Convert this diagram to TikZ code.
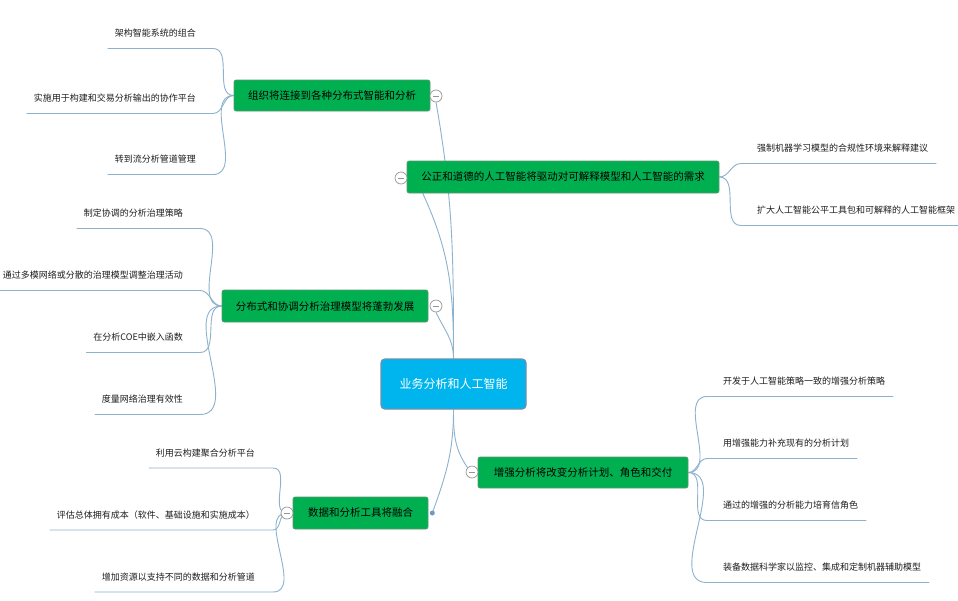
\documentclass[tikz,border=0pt]{standalone}
\usepackage{fontspec}
\setmainfont{Noto Sans CJK SC}
\usetikzlibrary{calc}
\pgfdeclarelayer{bg}
\pgfsetlayers{bg,main}
\definecolor{linec}{RGB}{140,178,206}
\definecolor{greenf}{RGB}{0,176,80}
\definecolor{greend}{RGB}{95,150,115}
\definecolor{bluef}{RGB}{0,181,238}
\definecolor{blued}{RGB}{105,145,175}
\definecolor{leaftxt}{RGB}{30,30,30}
\definecolor{circd}{RGB}{150,150,150}
\definecolor{dotc}{RGB}{110,155,195}
\begin{document}
\begin{tikzpicture}[x=1pt,y=-1pt,
  topic/.style={draw=greend, fill=greenf, line width=0.6pt, rounded corners=2pt,
    minimum height=31pt, inner sep=0pt, font=\fontsize{10.5}{12}\selectfont, text=black},
  rootnode/.style={draw=blued, fill=bluef, line width=1.3pt, rounded corners=4pt,
    minimum width=145pt, minimum height=50pt, inner sep=0pt,
    font=\fontsize{12}{14}\selectfont, text=white},
  leaf/.style={inner sep=0pt, font=\fontsize{9}{11}\selectfont, text=leaftxt},
  conn/.style={draw=linec, line width=0.9pt},
  fold/.style={circle, draw=circd, fill=white, line width=0.7pt, minimum size=12pt, inner sep=0pt,
    path picture={\draw[circd, line width=0.8pt] ($(path picture bounding box.west)+(3,0)$) -- ($(path picture bounding box.east)+(-3,0)$);}},
  dotnode/.style={circle, fill=dotc, minimum size=5pt, inner sep=0pt},
]
\useasboundingbox (0,0) rectangle (958,600);
\begin{pgfonlayer}{bg}
\fill[white] (0,0) rectangle (958,600);
\end{pgfonlayer}

% root
\node[rootnode] (root) at (453.5,384) {业务分析和人工智能};

% main topics
\node[topic, minimum width=196pt] (n1) at (332,95.5) {组织将连接到各种分布式智能和分析};
\node[topic, minimum width=312pt, minimum height=32pt] (n2) at (563,177) {公正和道德的人工智能将驱动对可解释模型和人工智能的需求};
\node[topic, minimum width=206pt, minimum height=32pt] (n3) at (325,306) {分布式和协调分析治理模型将蓬勃发展};
\node[topic, minimum width=210pt] (n4) at (583,472.5) {增强分析将改变分析计划、角色和交付};
\node[topic, minimum width=135pt, minimum height=32pt] (n5) at (360.5,513) {数据和分析工具将融合};

% fold circles
\node[fold] (f1) at (436,96) {};
\node[fold] (f2) at (401,178) {};
\node[fold] (f3) at (436,306) {};
\node[fold] (f4) at (472,472) {};
\node[fold] (f5) at (287,513) {};
\node[dotnode] (d5) at ($(n5.east)+(4,0)$) {};

% leaves of n1
\node[leaf, anchor=east] (a1) at (196,33) {架构智能系统的组合};
\node[leaf, anchor=east] (a2) at (196,98) {实施用于构建和交易分析输出的协作平台};
\node[leaf, anchor=east] (a3) at (196,159) {转到流分析管道管理};
% leaves of n3
\node[leaf, anchor=east] (c1) at (183,213) {制定协调的分析治理策略};
\node[leaf, anchor=east] (c2) at (183,275) {通过多模网络或分散的治理模型调整治理活动};
\node[leaf, anchor=east] (c3) at (183,337) {在分析COE中嵌入函数};
\node[leaf, anchor=east] (c4) at (183,399) {度量网络治理有效性};
% leaves of n5
\node[leaf, anchor=east] (e1) at (255,453) {利用云构建聚合分析平台};
\node[leaf, anchor=east] (e2) at (255,515) {评估总体拥有成本（软件、基础设施和实施成本）};
\node[leaf, anchor=east] (e3) at (255,577) {增加资源以支持不同的数据和分析管道};
% leaves of n2
\node[leaf, anchor=west] (b1) at (757,148) {强制机器学习模型的合规性环境来解释建议};
\node[leaf, anchor=west] (b2) at (757,210) {扩大人工智能公平工具包和可解释的人工智能框架};
% leaves of n4
\node[leaf, anchor=west] (d1) at (723,381) {开发于人工智能策略一致的增强分析策略};
\node[leaf, anchor=west] (d2) at (723,443) {用增强能力补充现有的分析计划};
\node[leaf, anchor=west] (d3) at (723,505) {通过的增强的分析能力培育信角色};
\node[leaf, anchor=west] (d4) at (723,567) {装备数据科学家以监控、集成和定制机器辅助模型};

\begin{pgfonlayer}{bg}
% root to topics
\draw[conn] (root.north) to[out=90,in=-80] (f1.south);
\draw[conn] (root.north) to[out=90,in=-65] ($(n2.south west)+(16,0)$);
\draw[conn] (root.north) to[out=90,in=-65] (f3.south);
\draw[conn] (root.south) to[out=-90,in=125] (f4.135);
\draw[conn] (root.south) to[out=-90,in=70] (d5.center);
% left leaves
\foreach \p/\l in {n1/a1,n1/a2,n1/a3,n3/c1,n3/c2,n3/c3,n3/c4} {
  \draw[conn] (\p.west) to[out=180,in=0] ($(\l.east)+(17,15.5)$) -- ($(\l.west)+(-7,15.5)$);
}
\foreach \l in {e1,e2,e3} {
  \draw[conn] (f5.center) to[out=180,in=0] ($(\l.east)+(18,15)$) -- ($(\l.west)+(-7,15)$);
}
% right leaves
\foreach \p/\l in {n2/b1,n2/b2,n4/d1,n4/d2,n4/d3,n4/d4} {
  \draw[conn] (\p.east) to[out=0,in=180] ($(\l.west)+(-16,15.5)$) -- ($(\l.east)+(8,15.5)$);
}
\end{pgfonlayer}
\end{tikzpicture}
\end{document}
